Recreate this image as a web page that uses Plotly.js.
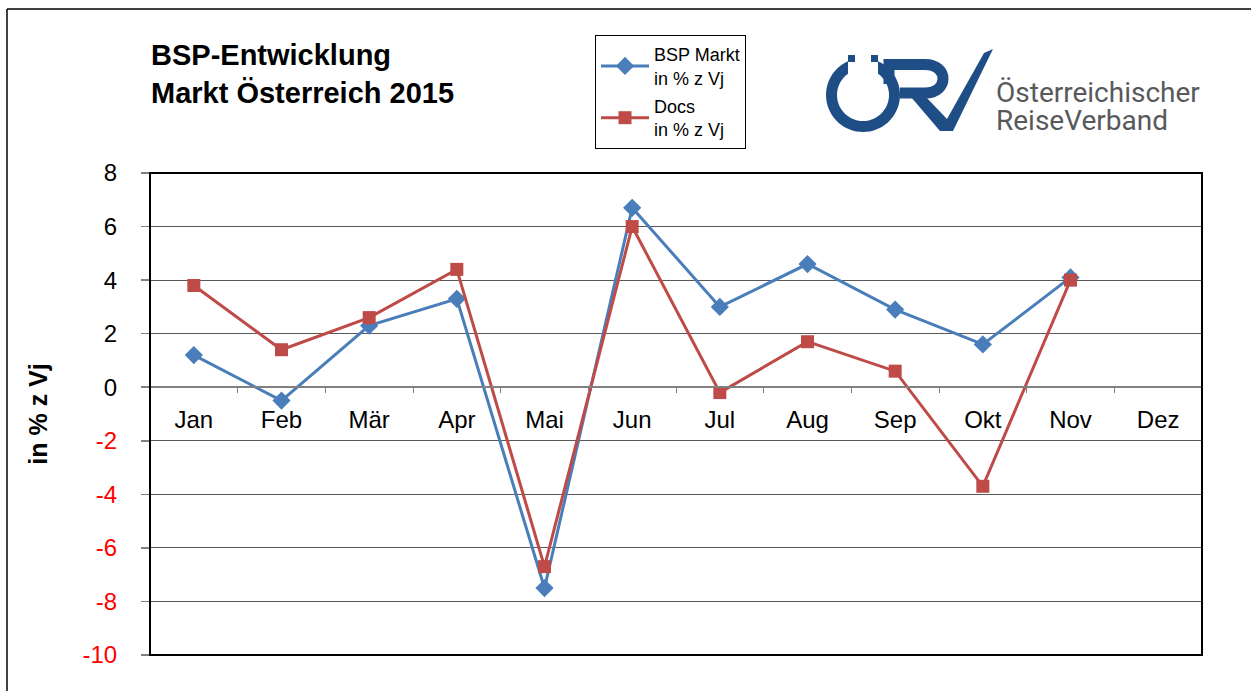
<!DOCTYPE html>
<html><head><meta charset="utf-8">
<script src="https://cdn.plot.ly/plotly-3.0.1.min.js"></script>
<style>html,body{margin:0;padding:0;background:#fff;}</style>
</head><body>
<div id="chart" style="width:1251px;height:691px;"></div>
<script>
var months = ["Jan","Feb","Mär","Apr","Mai","Jun","Jul","Aug","Sep","Okt","Nov","Dez"];
var bspMarkt = [1.2, -0.5, 2.3, 3.3, -7.5, 6.7, 3.0, 4.6, 2.9, 1.6, 4.1, null];
var docs = [3.8, 1.4, 2.6, 4.4, -6.7, 6.0, -0.2, 1.7, 0.6, -3.7, 4.0, null];
var yTickVals = [8, 6, 4, 2, 0, -2, -4, -6, -8, -10];

var W = 1251, H = 691, L = 150, R = 1202, T = 173, B = 655;
function px(x){ return (x - L) / (R - L); }
function py(y){ return (B - y) / (B - T); }
function P(x,y){ return px(x).toFixed(5) + "," + py(y).toFixed(5); }

var yTickText = yTickVals.map(function(v){
  return v < 0 ? '<span style="color:#ff0000">' + v + '</span>' : String(v);
});

var traces = [
  {x: months, y: bspMarkt, name: "BSP Markt<br>in % z Vj", type: "scatter", mode: "lines+markers",
   line: {color: "#4a7ebb", width: 3}, marker: {symbol: "diamond", size: 14, color: "#4a7ebb"},
   legendgroup: "a", cliponaxis: false},
  {x: months, y: docs, name: "Docs<br>in % z Vj", type: "scatter", mode: "lines+markers",
   line: {color: "#be4b48", width: 3}, marker: {symbol: "square", size: 13, color: "#be4b48"},
   legendgroup: "b", cliponaxis: false}
];

var logoBlue = "#1f4e86";
var cx = 863, cy = 95, ro = 37, ri = 26, half = 15;
var a0o = Math.asin(half/ro), a0i = Math.asin(half/ri);
var pts = [];
var n = 60, k, a;
for (k = 0; k <= n; k++) { a = a0o + (2*Math.PI - 2*a0o) * k / n; pts.push([cx + ro*Math.sin(a), cy - ro*Math.cos(a)]); }
for (k = n; k >= 0; k--) { a = a0i + (2*Math.PI - 2*a0i) * k / n; pts.push([cx + ri*Math.sin(a), cy - ri*Math.cos(a)]); }
var ringPath = "M" + pts.map(function(p){ return P(p[0], p[1]); }).join(" L") + " Z";

var shapes = [
  {type: "line", xref: "paper", yref: "paper", x0: px(7), x1: px(1251), y0: py(9), y1: py(9), line: {color: "#000", width: 1.5}},
  {type: "line", xref: "paper", yref: "paper", x0: px(7), x1: px(7), y0: py(9), y1: py(691), line: {color: "#000", width: 1.5}},
  {type: "rect", xref: "paper", yref: "paper", x0: 0, x1: 1, y0: 0, y1: 1, line: {color: "#000", width: 2}},
  {type: "path", xref: "paper", yref: "paper", path: ringPath, fillcolor: logoBlue, line: {width: 0}},
  {type: "rect", xref: "paper", yref: "paper", x0: px(848), x1: px(855), y0: py(55), y1: py(62), fillcolor: logoBlue, line: {width: 0}},
  {type: "rect", xref: "paper", yref: "paper", x0: px(871), x1: px(878), y0: py(55), y1: py(62), fillcolor: logoBlue, line: {width: 0}},
  {type: "path", xref: "paper", yref: "paper",
   path: "M" + P(889,84) + " L" + P(889,64.5) + " L" + P(925,64.5) + " C" + P(949,64.5) + " " + P(949,93) + " " + P(925,93) + " L" + P(900,93),
   line: {color: logoBlue, width: 11}},
  {type: "path", xref: "paper", yref: "paper",
   path: "M" + P(911,97) + " L" + P(926,97) + " L" + P(947,119) + " L" + P(984,53) + " L" + P(993,49) + " L" + P(953,131) + " L" + P(940,131) + " Z",
   fillcolor: logoBlue, line: {width: 0}}
];

var annotations = [
  {xref: "paper", yref: "paper", x: px(994), y: py(93), xanchor: "left", yanchor: "middle", showarrow: false,
   text: "Österreichischer", font: {family: "Liberation Sans Narrow, Roboto, sans-serif", size: 28, color: "#58595b"}},
  {xref: "paper", yref: "paper", x: px(994), y: py(121), xanchor: "left", yanchor: "middle", showarrow: false,
   text: "ReiseVerband", font: {family: "Liberation Sans Narrow, Roboto, sans-serif", size: 28, color: "#58595b"}}
];

var layout = {
  width: W, height: H,
  margin: {l: L, r: W - R, t: T, b: H - B, pad: 0},
  paper_bgcolor: "#fff", plot_bgcolor: "#fff",
  font: {family: "Liberation Sans, Arial, sans-serif", color: "#000"},
  title: {text: "<b>BSP-Entwicklung<br>Markt Österreich 2015</b>", xref: "container", yref: "container",
          x: 151/W, xanchor: "left", y: 1 - 65/H, yanchor: "top",
          font: {family: "Liberation Sans, Arial, sans-serif", size: 29, color: "#000"}},
  xaxis: {type: "category", categoryorder: "array", categoryarray: months, range: [-0.5, 11.5],
          anchor: "free", position: 10/18, showline: true, linecolor: "#808080", linewidth: 2,
          ticks: "outside", tickson: "boundaries", ticklen: 5, tickcolor: "#808080", tickwidth: 1,
          showgrid: false, zeroline: false, ticklabelstandoff: 11,
          tickfont: {size: 24, color: "#000"}, fixedrange: true},
  yaxis: {range: [-10, 8], tickmode: "array", tickvals: yTickVals, ticktext: yTickText,
          showgrid: true, gridcolor: "#595959", gridwidth: 1, zeroline: false,
          ticks: "outside", ticklen: 8, tickcolor: "#808080", tickwidth: 1.5,
          ticklabelstandoff: 19, tickfont: {size: 24, color: "#000"},
          title: {text: "<b>in % z Vj</b>", standoff: 27, font: {size: 25, color: "#000"}},
          automargin: false, fixedrange: true},
  showlegend: true,
  legend: {x: px(595), y: py(35), xanchor: "left", yanchor: "top", bgcolor: "#fff", bordercolor: "#000", borderwidth: 1,
           font: {size: 18, color: "#000"}, tracegroupgap: 2, itemwidth: 48},
  shapes: shapes, annotations: annotations
};

Plotly.newPlot("chart", traces, layout, {displayModeBar: false, staticPlot: true});
</script>
</body></html>
